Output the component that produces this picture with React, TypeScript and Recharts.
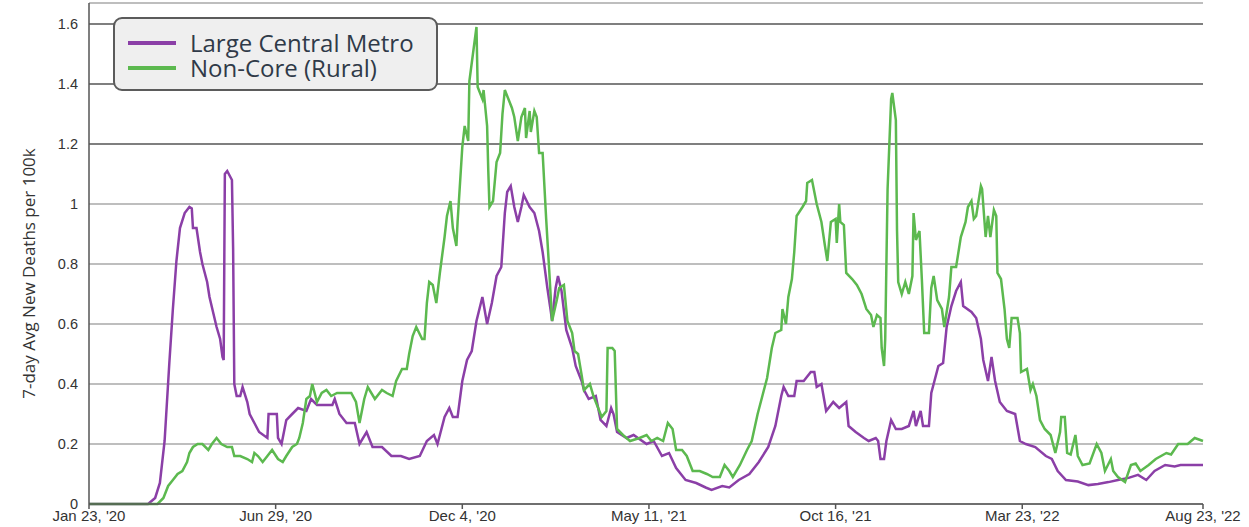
import React from 'react'
import {
  LineChart,
  Line,
  XAxis,
  YAxis,
  CartesianGrid,
  Legend,
  ReferenceLine,
} from 'recharts'

// days since Jan 23, 2020
const tickDays = [0, 158, 316, 474, 632, 790, 943]
const tickLabels = ["Jan 23, '20", "Jun 29, '20", "Dec 4, '20", "May 11, '21", "Oct 16, '21", "Mar 23, '22", "Aug 23, '22"]
const yTicks = [0, 0.2, 0.4, 0.6, 0.8, 1, 1.2, 1.4, 1.6]

const metroDays = [
  0, 50, 56, 60, 64, 68, 71, 74, 77, 81, 85, 87, 88, 91, 94, 96, 100, 102, 105, 108, 111, 113, 114, 115, 117, 121, 122, 123,
  125, 128, 130, 134, 136, 140, 144, 151, 152, 159, 160, 163, 167, 172, 177, 184, 188, 193, 206, 208, 212, 218, 225, 229,
  235, 240, 248, 256, 264, 271, 280, 286, 292, 295, 301, 305, 308, 312, 316, 320, 324, 328, 333, 337, 341, 345, 349, 352,
  354, 357, 360, 363, 366, 368, 373, 377, 381, 384, 388, 391, 392, 395, 397, 400, 404, 409, 412, 417, 419, 423, 429, 433,
  438, 442, 444, 447, 455, 461, 472, 478, 485, 491, 497, 505, 514, 522, 527, 536, 542, 550, 559, 567, 575, 581, 586, 588,
  592, 597, 599, 605, 611, 614, 616, 620, 624, 630, 635, 641, 643, 649, 656, 660, 666, 668, 670, 673, 675, 679, 683, 688,
  694, 698, 700, 704, 706, 711, 713, 719, 723, 726, 730, 734, 738, 740, 747, 751, 755, 757, 761, 764, 767, 771, 777, 784,
  788, 793, 801, 810, 815, 820, 827, 837, 846, 854, 863, 871, 880, 888, 895, 902, 911, 919, 924, 943,
]
const metroValues = [
  0, 0, 0.02, 0.07, 0.21, 0.47, 0.65, 0.81, 0.92, 0.97, 0.99, 0.985, 0.92, 0.92, 0.84, 0.8, 0.74, 0.69, 0.64, 0.59, 0.55, 0.49, 0.48, 1.1, 1.11, 1.08, 0.85, 0.4,
  0.36, 0.36, 0.39, 0.34, 0.3, 0.27, 0.24, 0.22, 0.3, 0.3, 0.22, 0.2, 0.28, 0.3, 0.32, 0.31, 0.35, 0.33, 0.33, 0.35, 0.3, 0.27, 0.27, 0.2,
  0.24, 0.19, 0.19, 0.16, 0.16, 0.15, 0.16, 0.21, 0.23, 0.2, 0.29, 0.32, 0.29, 0.29, 0.41, 0.48, 0.51, 0.61, 0.69, 0.6, 0.67, 0.76, 0.79, 0.97,
  1.04, 1.06, 0.99, 0.94, 0.99, 1.03, 0.99, 0.97, 0.91, 0.84, 0.72, 0.64, 0.61, 0.72, 0.76, 0.71, 0.58, 0.52, 0.46, 0.41, 0.38, 0.35, 0.36, 0.28,
  0.26, 0.32, 0.3, 0.24, 0.22, 0.23, 0.2, 0.21, 0.16, 0.17, 0.12, 0.08, 0.07, 0.055, 0.047, 0.06, 0.055, 0.08, 0.1, 0.14, 0.19, 0.26, 0.36, 0.39,
  0.36, 0.36, 0.41, 0.41, 0.44, 0.44, 0.39, 0.4, 0.31, 0.34, 0.32, 0.34, 0.26, 0.24, 0.22, 0.21, 0.22, 0.21, 0.15, 0.15, 0.21, 0.28, 0.25, 0.25,
  0.26, 0.31, 0.26, 0.31, 0.26, 0.26, 0.37, 0.46, 0.47, 0.59, 0.66, 0.71, 0.74, 0.66, 0.64, 0.62, 0.55, 0.48, 0.41, 0.49, 0.41, 0.34, 0.31, 0.3,
  0.21, 0.2, 0.19, 0.16, 0.15, 0.11, 0.08, 0.075, 0.063, 0.067, 0.073, 0.08, 0.087, 0.097, 0.08, 0.11, 0.13, 0.125, 0.13, 0.13,
]

const ruralDays = [
  0, 58, 63, 67, 71, 75, 79, 83, 85, 88, 92, 96, 101, 104, 108, 112, 117, 121, 123, 128, 134, 138, 140, 143, 147, 151, 155, 160,
  164, 167, 172, 176, 178, 181, 184, 187, 189, 193, 197, 201, 205, 210, 216, 222, 226, 229, 233, 236, 242, 248, 252, 257, 260, 265,
  269, 271, 274, 277, 282, 284, 286, 288, 291, 294, 297, 301, 303, 306, 308, 311, 312, 316, 318, 321, 322, 325, 328, 329, 333, 334,
  337, 338, 339, 342, 345, 348, 350, 352, 354, 358, 360, 363, 366, 369, 370, 373, 374, 377, 379, 381, 384, 387, 390, 392, 396, 398,
  402, 405, 409, 411, 414, 417, 419, 424, 427, 431, 434, 438, 439, 443, 445, 447, 452, 458, 466, 472, 476, 481, 486, 490, 494, 497,
  502, 506, 511, 517, 523, 528, 534, 538, 542, 545, 551, 557, 561, 566, 570, 574, 578, 581, 586, 587, 590, 592, 595, 597, 599, 604,
  607, 608, 612, 616, 620, 623, 625, 628, 632, 633, 635, 636, 639, 641, 646, 650, 654, 658, 662, 664, 667, 670, 671, 673, 674, 676,
  679, 680, 683, 684, 685, 688, 691, 694, 697, 698, 700, 703, 705, 707, 711, 713, 715, 718, 722, 724, 728, 730, 734, 738, 742, 744,
  747, 749, 751, 755, 756, 759, 761, 763, 766, 768, 769, 772, 775, 777, 779, 781, 786, 788, 789, 794, 797, 799, 802, 805, 809, 814,
  818, 822, 823, 826, 828, 831, 835, 837, 841, 847, 853, 857, 860, 865, 867, 871, 877, 882, 886, 890, 897, 903, 912, 916, 922, 930,
  936, 943,
]
const ruralValues = [
  0, 0, 0.02, 0.06, 0.08, 0.1, 0.11, 0.14, 0.17, 0.19, 0.2, 0.2, 0.18, 0.2, 0.22, 0.2, 0.19, 0.19, 0.16, 0.16, 0.15, 0.14, 0.17, 0.16, 0.14, 0.16, 0.18, 0.15,
  0.14, 0.16, 0.19, 0.2, 0.22, 0.27, 0.35, 0.36, 0.4, 0.34, 0.37, 0.38, 0.36, 0.37, 0.37, 0.37, 0.34, 0.27, 0.35, 0.39, 0.35, 0.38, 0.37, 0.36, 0.41, 0.45,
  0.45, 0.5, 0.56, 0.59, 0.55, 0.55, 0.67, 0.74, 0.73, 0.67, 0.77, 0.89, 0.96, 1.01, 0.92, 0.86, 0.94, 1.19, 1.26, 1.21, 1.41, 1.5, 1.59, 1.39, 1.35, 1.38,
  1.26, 1.11, 0.99, 1.01, 1.14, 1.17, 1.3, 1.38, 1.36, 1.32, 1.29, 1.21, 1.29, 1.32, 1.22, 1.31, 1.24, 1.31, 1.29, 1.17, 1.17, 0.95, 0.75, 0.61, 0.68, 0.72,
  0.73, 0.61, 0.57, 0.51, 0.5, 0.43, 0.38, 0.4, 0.36, 0.32, 0.29, 0.31, 0.52, 0.52, 0.51, 0.25, 0.23, 0.21, 0.22, 0.23, 0.21, 0.22, 0.21, 0.27, 0.25, 0.18,
  0.18, 0.16, 0.11, 0.11, 0.1, 0.09, 0.09, 0.13, 0.11, 0.09, 0.13, 0.18, 0.21, 0.3, 0.36, 0.42, 0.52, 0.57, 0.58, 0.65, 0.6, 0.69, 0.75, 0.84, 0.96, 0.99,
  1.01, 1.07, 1.08, 1.0, 0.94, 0.86, 0.81, 0.94, 0.95, 0.87, 1.0, 0.94, 0.93, 0.77, 0.75, 0.73, 0.7, 0.65, 0.63, 0.59, 0.63, 0.62, 0.52, 0.46, 0.55, 1.05,
  1.35, 1.37, 1.28, 0.91, 0.74, 0.7, 0.74, 0.7, 0.76, 0.97, 0.88, 0.91, 0.75, 0.57, 0.57, 0.72, 0.76, 0.68, 0.65, 0.59, 0.69, 0.79, 0.79, 0.89, 0.94, 0.99,
  1.01, 0.95, 0.96, 1.06, 1.05, 0.89, 0.96, 0.89, 0.98, 0.96, 0.77, 0.75, 0.65, 0.55, 0.52, 0.62, 0.62, 0.57, 0.44, 0.45, 0.38, 0.4, 0.36, 0.28, 0.25, 0.23,
  0.17, 0.24, 0.29, 0.29, 0.17, 0.165, 0.23, 0.16, 0.13, 0.135, 0.2, 0.17, 0.11, 0.15, 0.11, 0.09, 0.073, 0.13, 0.135, 0.11, 0.13, 0.15, 0.17, 0.165, 0.2, 0.2,
  0.22, 0.21,
]

const metroData = metroDays.map((day, i) => ({ day, value: metroValues[i] }))
const ruralData = ruralDays.map((day, i) => ({ day, value: ruralValues[i] }))

const METRO = '#8b3fa7'
const RURAL = '#5cb94f'

const legendItems = [
  { name: 'Large Central Metro', color: METRO },
  { name: 'Non-Core (Rural)', color: RURAL },
]

function LegendBox() {
  return (
    <div
      style={{
        boxSizing: 'border-box',
        width: 325,
        height: 74,
        border: '2px solid #5b5b5b',
        borderRadius: 9,
        background: '#efefef',
        padding: '11px 0 0 13px',
        fontFamily: '"Open Sans", sans-serif',
        fontSize: 24,
        color: '#2f3a48',
      }}
    >
      {legendItems.map((it) => (
        <div key={it.name} style={{ display: 'flex', alignItems: 'center', height: 25 }}>
          <span style={{ display: 'inline-block', width: 48, height: 4, background: it.color, marginRight: 14 }} />
          <span style={{ lineHeight: '25px', whiteSpace: 'nowrap' }}>{it.name}</span>
        </div>
      ))}
    </div>
  )
}

export default function App() {
  const xTick = { fill: '#333', fontSize: 15, fontFamily: '"Liberation Sans", Arial, sans-serif' }
  const yTick = { fill: '#333', fontSize: 14.5, fontFamily: '"Liberation Sans", Arial, sans-serif' }
  return (
    <div style={{ position: 'absolute', left: 0, top: 0, background: '#fff' }}>
      <LineChart width={1249} height={527} margin={{ top: 3, right: 46, bottom: 0, left: 0 }}>
        <CartesianGrid horizontal vertical={false} stroke="#a8a8a8" strokeWidth={1.3} />
        {[1.2, 1.4, 1.6].map((v) => (
          <ReferenceLine key={v} y={v} stroke="#6a6a6a" strokeWidth={1.3} />
        ))}
        <XAxis
          type="number"
          dataKey="day"
          domain={[0, 943]}
          ticks={tickDays}
          interval={0}
          tickFormatter={(d) => tickLabels[tickDays.indexOf(d)]}
          tick={xTick}
          tickSize={5}
          tickMargin={1}
          stroke="#555"
          strokeWidth={1.5}
          height={23}
          allowDuplicatedCategory={false}
        />
        <YAxis
          type="number"
          domain={[0, 1.67]}
          ticks={yTicks}
          interval={0}
          tick={yTick}
          tickLine={false}
          tickMargin={5}
          stroke="#555"
          strokeWidth={1.5}
          width={89}
          label={{
            value: '7-day Avg New Deaths per 100k',
            angle: -90,
            position: 'center',
            dx: -16,
            dy: 20,
            style: { fill: '#333', fontSize: 17, fontFamily: '"Open Sans", sans-serif' },
          }}
        />
        <Legend
          layout="horizontal"
          verticalAlign="middle"
          align="center"
          content={() => <LegendBox />}
          wrapperStyle={{ position: 'absolute', left: 113, top: 17, width: 'auto', height: 'auto' }}
        />
        <Line
          data={metroData}
          dataKey="value"
          name="Large Central Metro"
          type="linear"
          stroke={METRO}
          strokeWidth={2.5}
          dot={false}
          isAnimationActive={false}
        />
        <Line
          data={ruralData}
          dataKey="value"
          name="Non-Core (Rural)"
          type="linear"
          stroke={RURAL}
          strokeWidth={2.5}
          dot={false}
          isAnimationActive={false}
        />
      </LineChart>
    </div>
  )
}
